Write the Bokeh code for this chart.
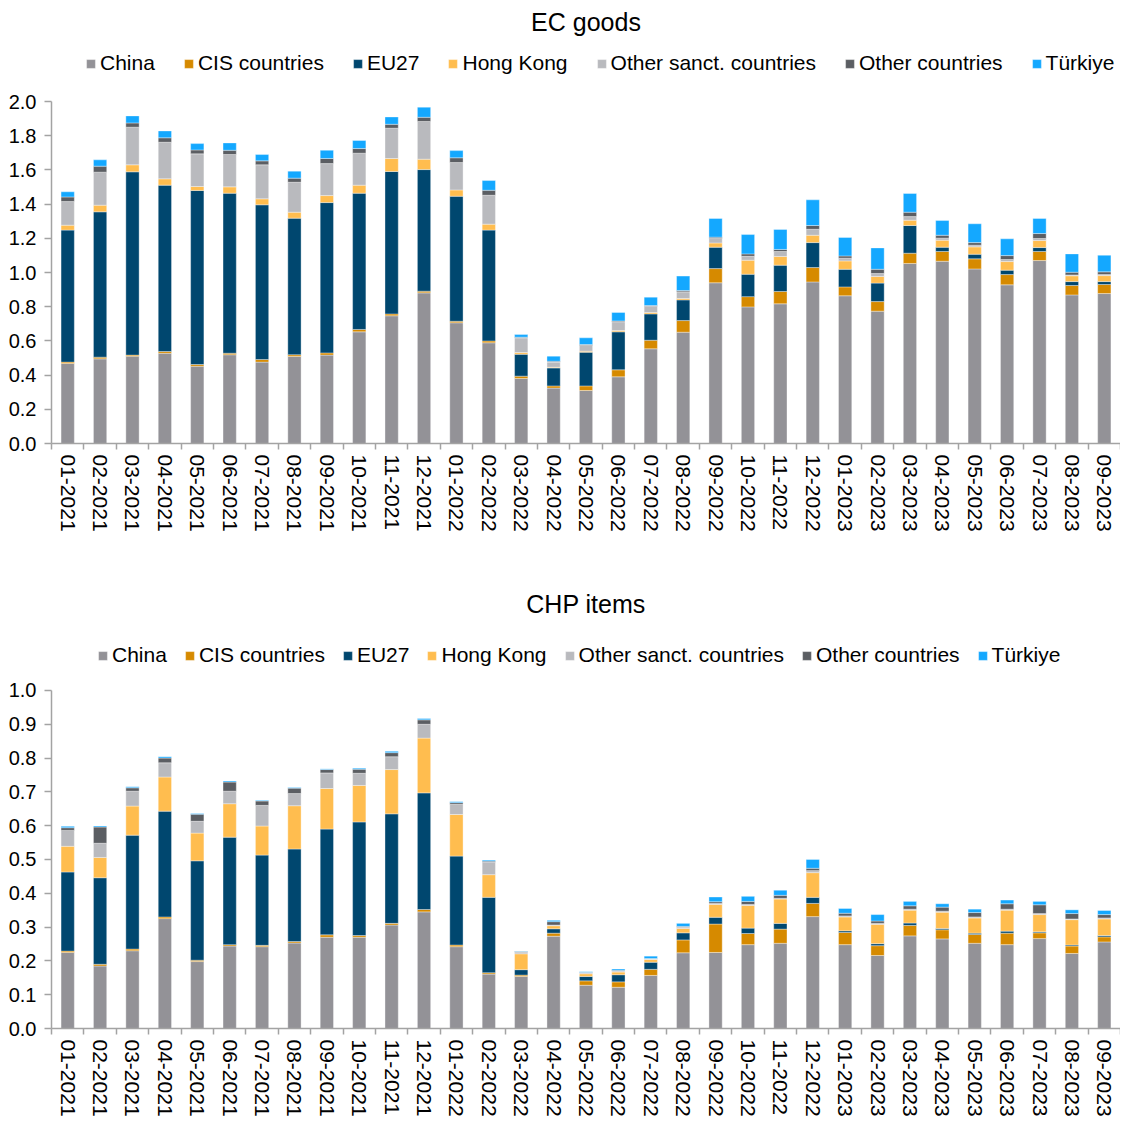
from bokeh.plotting import figure
from bokeh.models import (Range1d, FixedTicker, NumeralTickFormatter, Legend,
                          LegendItem, ColumnDataSource)
from bokeh.layouts import column
from bokeh.embed import file_html
from bokeh.resources import INLINE

FONT = "Liberation Sans"

months = ["01-2021", "02-2021", "03-2021", "04-2021", "05-2021", "06-2021",
          "07-2021", "08-2021", "09-2021", "10-2021", "11-2021", "12-2021",
          "01-2022", "02-2022", "03-2022", "04-2022", "05-2022", "06-2022",
          "07-2022", "08-2022", "09-2022", "10-2022", "11-2022", "12-2022",
          "01-2023", "02-2023", "03-2023", "04-2023", "05-2023", "06-2023",
          "07-2023", "08-2023", "09-2023"]

series_names = ["China", "CIS countries", "EU27", "Hong Kong",
                "Other sanct. countries", "Other countries", "Türkiye"]
series_colors = ["#939297", "#d68a00", "#00476f", "#ffbd4f",
                 "#b9babe", "#5b5e63", "#14a8ff"]

# ---- EC goods ----
ec_china = [0.468, 0.495, 0.511, 0.528, 0.452, 0.519, 0.476, 0.509, 0.517, 0.653, 0.747,
            0.881, 0.706, 0.589, 0.380, 0.324, 0.310, 0.390, 0.554, 0.651, 0.940, 0.799,
            0.817, 0.945, 0.864, 0.774, 1.053, 1.066, 1.021, 0.928, 1.070, 0.869, 0.877]
ec_cis = [0.008, 0.010, 0.006, 0.010, 0.010, 0.009, 0.015, 0.010, 0.013, 0.014, 0.011,
          0.010, 0.009, 0.011, 0.014, 0.013, 0.027, 0.041, 0.050, 0.068, 0.083, 0.060,
          0.072, 0.084, 0.052, 0.056, 0.060, 0.057, 0.059, 0.060, 0.053, 0.055, 0.053]
ec_eu27 = [0.772, 0.850, 1.072, 0.973, 1.018, 0.936, 0.905, 0.799, 0.879, 0.797, 0.833,
           0.711, 0.731, 0.648, 0.128, 0.105, 0.197, 0.222, 0.154, 0.121, 0.125, 0.131,
           0.154, 0.146, 0.103, 0.108, 0.162, 0.025, 0.027, 0.026, 0.023, 0.023, 0.017]
ec_hk = [0.029, 0.039, 0.041, 0.037, 0.023, 0.037, 0.035, 0.035, 0.041, 0.047, 0.076,
         0.061, 0.037, 0.035, 0.010, 0.004, 0.006, 0.008, 0.008, 0.008, 0.025, 0.082,
         0.051, 0.043, 0.049, 0.039, 0.031, 0.041, 0.043, 0.050, 0.041, 0.034, 0.035]
ec_other_sanct = [0.138, 0.193, 0.220, 0.214, 0.191, 0.189, 0.199, 0.175, 0.187, 0.187, 0.177,
                  0.220, 0.160, 0.169, 0.086, 0.030, 0.033, 0.051, 0.037, 0.039, 0.026, 0.023,
                  0.029, 0.035, 0.016, 0.017, 0.021, 0.012, 0.010, 0.012, 0.012, 0.005, 0.006]
ec_other = [0.027, 0.035, 0.025, 0.026, 0.023, 0.025, 0.023, 0.024, 0.030, 0.027, 0.023,
            0.025, 0.028, 0.029, 0.004, 0.005, 0.006, 0.005, 0.004, 0.008, 0.008, 0.014,
            0.012, 0.022, 0.013, 0.025, 0.026, 0.017, 0.015, 0.023, 0.029, 0.016, 0.016]
ec_turkiye = [0.030, 0.037, 0.041, 0.040, 0.037, 0.043, 0.037, 0.041, 0.048, 0.047, 0.043,
              0.059, 0.042, 0.057, 0.015, 0.030, 0.039, 0.049, 0.049, 0.084, 0.109, 0.113,
              0.117, 0.150, 0.108, 0.125, 0.109, 0.086, 0.110, 0.098, 0.088, 0.107, 0.097]

# ---- CHP items ----
chp_china = [0.225, 0.185, 0.230, 0.325, 0.198, 0.244, 0.242, 0.253, 0.270, 0.270, 0.306,
             0.345, 0.242, 0.161, 0.154, 0.273, 0.128, 0.122, 0.157, 0.224, 0.225, 0.248,
             0.252, 0.331, 0.248, 0.216, 0.274, 0.265, 0.252, 0.248, 0.266, 0.222, 0.256]
chp_cis = [0.004, 0.005, 0.005, 0.005, 0.004, 0.004, 0.004, 0.004, 0.007, 0.005, 0.005,
           0.007, 0.005, 0.004, 0.004, 0.009, 0.013, 0.016, 0.018, 0.038, 0.084, 0.033,
           0.042, 0.039, 0.036, 0.029, 0.031, 0.027, 0.026, 0.034, 0.017, 0.022, 0.015]
chp_eu27 = [0.234, 0.256, 0.337, 0.313, 0.294, 0.318, 0.267, 0.274, 0.313, 0.336, 0.324,
            0.345, 0.263, 0.223, 0.016, 0.013, 0.013, 0.021, 0.021, 0.021, 0.020, 0.016,
            0.017, 0.018, 0.005, 0.006, 0.007, 0.004, 0.004, 0.006, 0.003, 0.003, 0.004]
chp_hk = [0.076, 0.060, 0.086, 0.101, 0.082, 0.099, 0.086, 0.128, 0.120, 0.108, 0.131,
          0.162, 0.123, 0.067, 0.047, 0.009, 0.008, 0.008, 0.008, 0.013, 0.038, 0.067,
          0.072, 0.073, 0.041, 0.057, 0.038, 0.048, 0.045, 0.062, 0.051, 0.075, 0.049]
chp_other_sanct = [0.047, 0.042, 0.044, 0.042, 0.035, 0.037, 0.061, 0.036, 0.046, 0.036, 0.038,
                   0.041, 0.030, 0.037, 0.005, 0.002, 0.003, 0.003, 0.002, 0.004, 0.003, 0.003,
                   0.002, 0.006, 0.003, 0.003, 0.003, 0.003, 0.003, 0.003, 0.003, 0.002, 0.003]
chp_other = [0.008, 0.048, 0.010, 0.014, 0.021, 0.027, 0.013, 0.016, 0.010, 0.012, 0.012,
             0.013, 0.005, 0.003, 0.002, 0.010, 0.001, 0.002, 0.001, 0.002, 0.005, 0.009,
             0.009, 0.007, 0.008, 0.007, 0.010, 0.012, 0.013, 0.016, 0.026, 0.016, 0.010]
chp_turkiye = [0.004, 0.003, 0.003, 0.004, 0.002, 0.003, 0.002, 0.002, 0.002, 0.003, 0.004,
               0.004, 0.003, 0.003, 0.001, 0.004, 0.002, 0.004, 0.007, 0.009, 0.014, 0.015,
               0.015, 0.026, 0.014, 0.019, 0.013, 0.010, 0.010, 0.011, 0.010, 0.011, 0.012]

ec_ticks = [0.0, 0.2, 0.4, 0.6, 0.8, 1.0, 1.2, 1.4, 1.6, 1.8, 2.0]
chp_ticks = [0.0, 0.1, 0.2, 0.3, 0.4, 0.5, 0.6, 0.7, 0.8, 0.9, 1.0]

AXIS_COLOR = "#a3a3a3"


def make_chart(title, values, yticks, y_end, frame_h, min_bottom, spacing,
               title_offset, legend_xy):
    n = len(months)
    pos = list(range(1, n + 1))
    keys = ["s%d" % i for i in range(len(values))]
    data = {"x": pos}
    for k, v in zip(keys, values):
        data[k] = v
    src = ColumnDataSource(data)

    p = figure(frame_width=1069, frame_height=frame_h, output_backend="svg",
               toolbar_location=None,
               x_range=Range1d(0.5, n + 0.5), y_range=Range1d(0, y_end),
               min_border_left=51, min_border_right=0,
               min_border_top=0, min_border_bottom=min_bottom)
    p.outline_line_color = None
    p.xgrid.visible = False
    p.ygrid.visible = False
    p.background_fill_color = "white"

    renderers = p.vbar_stack(keys, x="x", width=0.41, source=src, color=series_colors,
                             line_color="white", line_width=0.6, line_alpha=0.6)

    items = [LegendItem(label=name, renderers=[r]) for name, r in zip(series_names, renderers)]
    legend = Legend(items=items, orientation="horizontal", location=legend_xy,
                    label_text_font=FONT, label_text_font_size="21px",
                    label_text_color="#000000", glyph_width=11, glyph_height=11,
                    label_standoff=4, spacing=spacing, padding=0, margin=0,
                    border_line_color=None, background_fill_alpha=0)
    p.add_layout(legend, "center")

    p.title.text = title
    p.title.align = "center"
    p.title.offset = title_offset
    p.title.text_font = FONT
    p.title.text_font_size = "25px"
    p.title.text_font_style = "normal"
    p.title.text_color = "#000000"

    # y axis (line drawn only over the tick range)
    ya = p.yaxis[0]
    ya.ticker = FixedTicker(ticks=yticks)
    ya.bounds = (yticks[0], yticks[-1])
    ya.formatter = NumeralTickFormatter(format="0.0")
    ya.axis_line_color = AXIS_COLOR
    ya.axis_line_width = 1.5
    ya.major_tick_line_color = AXIS_COLOR
    ya.major_tick_line_width = 1.5
    ya.major_tick_out = 7
    ya.major_tick_in = 0
    ya.minor_tick_line_color = None
    ya.major_label_text_font = FONT
    ya.major_label_text_font_size = "20px"
    ya.major_label_text_color = "#000000"
    ya.major_label_standoff = 8

    # x axis: labels at bar centres, tick marks between bars
    xa = p.xaxis[0]
    xa.ticker = FixedTicker(ticks=pos, minor_ticks=[i + 0.5 for i in range(0, n + 1)])
    xa.major_label_overrides = {i: m for i, m in zip(pos, months)}
    xa.major_label_orientation = "vertical"
    xa.axis_line_color = AXIS_COLOR
    xa.axis_line_width = 1.5
    xa.major_tick_line_color = None
    xa.major_tick_out = 0
    xa.major_tick_in = 0
    xa.minor_tick_line_color = AXIS_COLOR
    xa.minor_tick_line_width = 1.5
    xa.minor_tick_out = 6
    xa.minor_tick_in = 0
    xa.major_label_text_font = FONT
    xa.major_label_text_font_size = "21px"
    xa.major_label_text_color = "#000000"
    xa.major_label_standoff = 5
    return p


p1 = make_chart("EC goods",
                [ec_china, ec_cis, ec_eu27, ec_hk, ec_other_sanct, ec_other, ec_turkiye],
                ec_ticks, 2.357, 403, 139, 28, -27, (34, 368))
p2 = make_chart("CHP items",
                [chp_china, chp_cis, chp_eu27, chp_hk, chp_other_sanct, chp_other, chp_turkiye],
                chp_ticks, 1.201, 406, 0, 17, -30, (46, 361))

layout = column(p1, p2, spacing=0)
open("out.html", "w").write(file_html(layout, INLINE))
